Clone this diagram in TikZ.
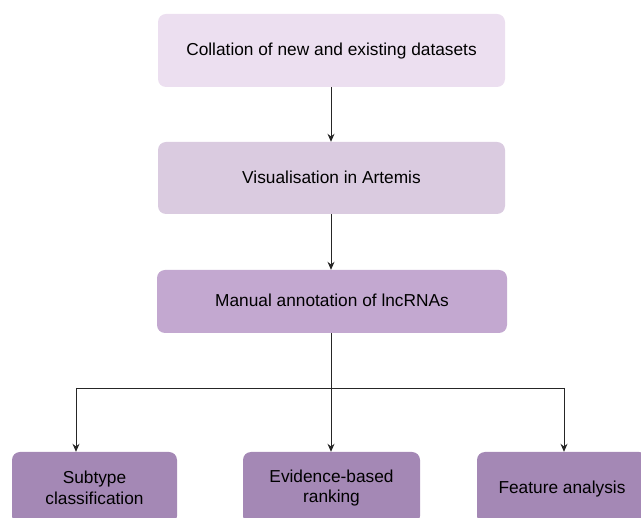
\documentclass[tikz,border=0pt]{standalone}
\usepackage{fontspec}
\setmainfont{Liberation Sans}
\usetikzlibrary{arrows.meta}
\definecolor{cA}{HTML}{ECDFF0}
\definecolor{cB}{HTML}{DACBE0}
\definecolor{cC}{HTML}{C3A8D0}
\definecolor{cD}{HTML}{A488B5}
\tikzset{
  box/.style={rounded corners=8pt, inner sep=0pt, align=center, font=\fontsize{17.3}{20.5}\selectfont, text=black},
  oneline/.style={text height=12.4pt, text depth=2pt},
  conn/.style={line width=0.9pt, black!85},
  arr/.style={conn, -{Stealth[length=8pt,width=7pt]}},
}
\begin{document}
\begin{tikzpicture}[x=1pt,y=-1pt]
\useasboundingbox (0,0) rectangle (641,518);
\clip (0,0) rectangle (641,518);
\node[box, oneline, fill=cA, minimum width=347pt, minimum height=73pt] (n1) at (331.5,50.5) {Collation of new and existing datasets};
\node[box, oneline, fill=cB, minimum width=347pt, minimum height=72pt] (n2) at (331.5,178) {Visualisation in Artemis};
\node[box, oneline, fill=cC, minimum width=350pt, minimum height=63pt] (n3) at (332,301.5) {Manual annotation of lncRNAs};
\node[box, fill=cD, minimum width=165pt, minimum height=72pt] (b1) at (94.5,488) {Subtype\\classification};
\node[box, fill=cD, minimum width=177pt, minimum height=72pt] (b2) at (331.5,488) {Evidence-based\\ranking};
\node[box, oneline, fill=cD, minimum width=170pt, minimum height=72pt] (b3) at (562,488) {Feature analysis};
\coordinate (j) at (331,388);
\coordinate (jl) at (76,388);
\coordinate (jr) at (564,388);
\draw[arr] (n1.south -| j) -- (n2.north -| j);
\draw[arr] (n2.south -| j) -- (n3.north -| j);
\draw[conn] (n3.south -| j) -- (j);
\draw[conn] (jl) -- (jr);
\draw[arr] (jl) -- (jl |- b1.north);
\draw[arr] (j) -- (j |- b2.north);
\draw[arr] (jr) -- (jr |- b3.north);
\end{tikzpicture}
\end{document}
